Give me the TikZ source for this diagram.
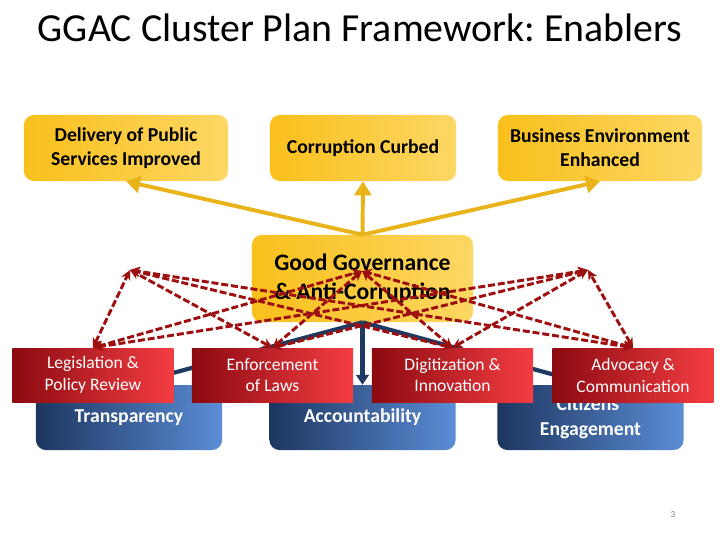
\documentclass[tikz,border=0pt]{standalone}
\usepackage{fontspec}
\setmainfont{Carlito}
\usetikzlibrary{arrows.meta}
\definecolor{gold left}{rgb}{0.976, 0.753, 0.110}
\definecolor{gold right}{rgb}{0.992, 0.843, 0.392}
\definecolor{gold line}{rgb}{0.910, 0.706, 0.102}
\definecolor{navy left}{rgb}{0.114, 0.212, 0.376}
\definecolor{navy right}{rgb}{0.357, 0.553, 0.839}
\definecolor{navy line}{rgb}{0.122, 0.227, 0.376}
\definecolor{red left}{rgb}{0.545, 0.039, 0.063}
\definecolor{red right}{rgb}{0.957, 0.239, 0.259}
\definecolor{dash red}{rgb}{0.620, 0.063, 0.063}
\frenchspacing

\begin{document}
\begin{tikzpicture}[x=0.025cm, y=-0.025cm,
		goalbox/.style={rounded corners=7pt, left color=gold left, right color=gold right, minimum height=1.65cm, inner sep=0pt, align=center, font=\bfseries\fontsize{14}{17}\selectfont},
		pillarbox/.style={rounded corners=7pt, left color=navy left, right color=navy right, minimum width=4.65cm, minimum height=1.625cm, inner sep=0pt, align=center, text=white, font=\bfseries\fontsize{14}{17.8}\selectfont},
		enablerbox/.style={left color=red left, right color=red right, minimum width=4.025cm, minimum height=1.35cm, inner sep=0pt, align=center, text=white, font=\fontsize{12.5}{15.6}\selectfont},
		goldarrow/.style={gold line, line width=2.8pt, -{Triangle[length=10pt, width=12pt]}},
		navyarrow/.style={navy line, line width=3pt, -{Triangle[length=7pt, width=9pt]}},
		linkdash/.style={dash red, line width=2.1pt, dash pattern=on 5pt off 2pt, {Stealth[length=7pt, width=7pt]}-{Stealth[length=7pt, width=7pt]}}]
			\useasboundingbox (0,0) rectangle (720,540);
			% title
			\node[font=\fontsize{28.3}{34}\selectfont] (title) at (360,28) {GGAC Cluster Plan Framework: Enablers};
			\node[gray, font=\fontsize{6.5}{8}\selectfont] (pagenum) at (673,515) {3};
			% part for the goals
			\begin{scope}
				\node[goalbox, minimum width=5.1cm] (deliv) at (126,148) {Delivery of Public\\Services Improved};
				\node[goalbox, minimum width=4.65cm] (curbed) at (363,148) {Corruption Curbed};
				\node[goalbox, minimum width=5.1cm] (busenv) at (600,148) {Business Environment\\Enhanced};
				\node[goalbox, minimum width=5.525cm, minimum height=2.175cm, font=\bfseries\fontsize{16.8}{20}\selectfont] (ggac) at (362.5,278.5) {Good Governance\\\& Anti-Corruption};
			\end{scope}
			% part for the pillars
			\begin{scope}
				\node[pillarbox] (transp) at (129,417.5) {Transparency};
				\node[pillarbox] (account) at (362.5,417.5) {Accountability};
				\node[pillarbox] (citizens) at (590.5,417.5) {Citizens'\\Engagement};
			\end{scope}
			% arrows
			\draw[goldarrow] (ggac.north) -- (deliv.south);
			\draw[goldarrow] (ggac.north) -- (curbed.south);
			\draw[goldarrow] (ggac.north) -- (busenv.south);
			\draw[navyarrow] (ggac.south) -- (transp.north);
			\draw[navyarrow] (ggac.south) -- (account.north);
			\draw[navyarrow] (ggac.south) -- (citizens.north);
			% part for the enablers
			\begin{scope}
				\node[enablerbox] (legis) at (93,375) {Legislation \&\\Policy Review};
				\node[enablerbox] (enforce) at (272.5,375) {Enforcement\\of Laws};
				\node[enablerbox] (digit) at (452.5,375) {Digitization \&\\Innovation};
				\node[enablerbox] (advoc) at (633,375) {Advocacy \&\\Communication};
			\end{scope}
			% dashed links
			\coordinate (peakL) at (130,270);
			\coordinate (peakC) at (362,271);
			\coordinate (peakR) at (588,270);
			\draw[linkdash] (legis.north) -- (peakL);
			\draw[linkdash] (legis.north) -- (peakC);
			\draw[linkdash] (legis.north) -- (peakR);
			\draw[linkdash] (enforce.north) -- (peakL);
			\draw[linkdash] (enforce.north) -- (peakC);
			\draw[linkdash] (enforce.north) -- (peakR);
			\draw[linkdash] (digit.north) -- (peakL);
			\draw[linkdash] (digit.north) -- (peakC);
			\draw[linkdash] (digit.north) -- (peakR);
			\draw[linkdash] (advoc.north) -- (peakL);
			\draw[linkdash] (advoc.north) -- (peakC);
			\draw[linkdash] (advoc.north) -- (peakR);
		\end{tikzpicture}
\end{document}
